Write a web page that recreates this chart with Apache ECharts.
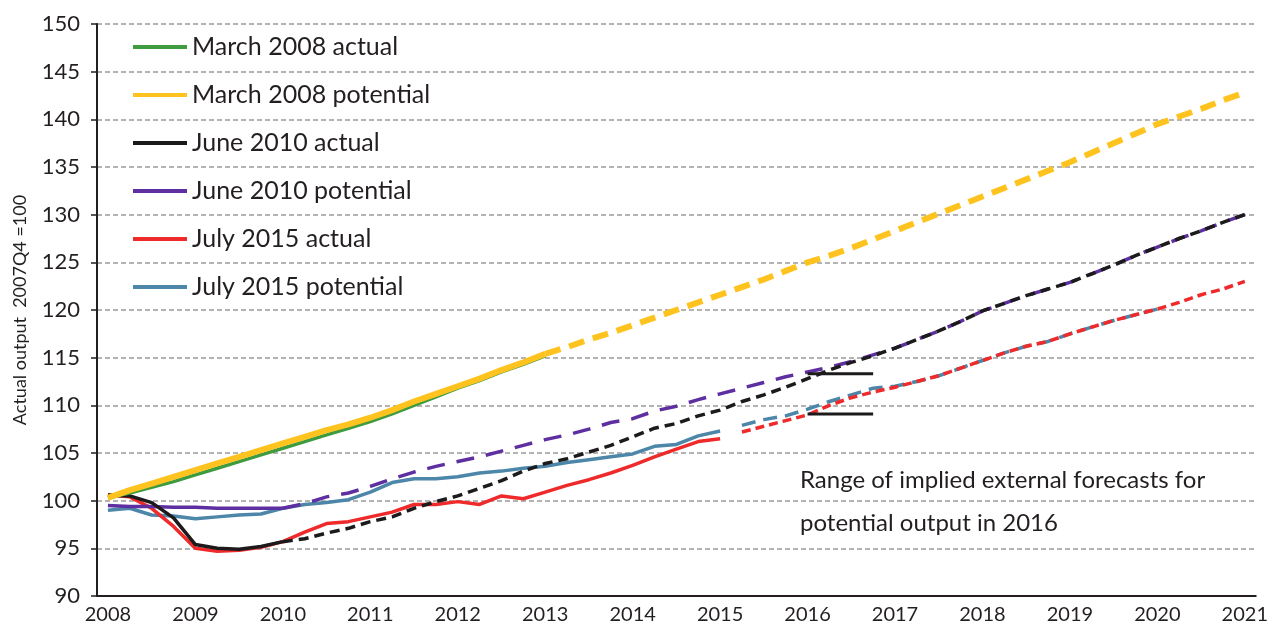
<!DOCTYPE html>
<html>
<head>
<meta charset="utf-8">
<script src="https://cdn.jsdelivr.net/npm/echarts@6/dist/echarts.min.js"></script>
<style>
  html, body { margin: 0; padding: 0; background: #fff; }
  #chart { width: 1271px; height: 633px; }
</style>
</head>
<body>
<div id="chart"></div>
<script>
// quarterly categories, 2008Q1 .. 2021Q1
var years = [2008, 2009, 2010, 2011, 2012, 2013, 2014, 2015, 2016, 2017, 2018, 2019, 2020, 2021];
var quarters = [];
years.forEach(function (y) {
  for (var q = 1; q <= 4; q++) {
    if (y === 2021 && q > 1) break;
    quarters.push(y + 'Q' + q);
  }
});

// March 2008 forecast
var mar08Actual = [100.3, 100.8, 101.4, 102.0, 102.7, 103.4, 104.1, 104.8, 105.5, 106.2, 106.9, 107.6,
  108.3, 109.1, 110.0, 110.9, 111.8, 112.6, 113.5, 114.3, 115.2];
var mar08Potential = [100.3, 101.1, 101.8, 102.5, 103.2, 103.9, 104.6, 105.3, 106.0, 106.7, 107.4, 108.0,
  108.7, 109.5, 110.4, 111.2, 112.0, 112.8, 113.7, 114.5, 115.4, 116.1, 116.9, 117.6,
  118.4, 119.2, 120.0, 120.8, 121.6, 122.4, 123.2, 124.1, 125.0, 125.7, 126.5, 127.4,
  128.3, 129.2, 130.1, 131.0, 131.9, 132.8, 133.7, 134.6, 135.5, 136.5, 137.5, 138.5,
  139.5, 140.3, 141.1, 142.0, 142.8];

// June 2010 forecast
var jun10Actual = [100.6, 100.5, 99.8, 98.2, 95.4, 95.0, 94.9, 95.2, 95.7, 96.0, 96.6, 97.1,
  97.8, 98.3, 99.2, 99.9, 100.5, 101.3, 102.1, 103.1, 103.9, 104.4, 105.1, 105.8,
  106.7, 107.6, 108.1, 108.9, 109.5, 110.4, 111.1, 111.9, 112.8, 113.7, 114.5, 115.2,
  116.0, 116.9, 117.8, 118.8, 119.9, 120.7, 121.5, 122.2, 122.9, 123.8, 124.7, 125.7,
  126.6, 127.5, 128.3, 129.2, 130.0];
var jun10Potential = [99.5, 99.4, 99.4, 99.3, 99.3, 99.2, 99.2, 99.2, 99.2, 99.7, 100.4, 100.8,
  101.5, 102.3, 103.0, 103.6, 104.1, 104.6, 105.2, 105.8, 106.4, 106.9, 107.5, 108.2,
  108.6, 109.4, 109.9, 110.6, 111.2, 111.8, 112.4, 113.0, 113.5, 114.0, 114.6, 115.3,
  116.0, 116.9, 117.8, 118.8, 119.9, 120.7, 121.5, 122.2, 122.9, 123.8, 124.7, 125.7,
  126.6, 127.5, 128.3, 129.2, 130.0];

// July 2015 forecast
var jul15Actual = [100.6, 100.4, 99.2, 97.3, 95.0, 94.7, 94.8, 95.1, 95.7, 96.7, 97.6, 97.8,
  98.3, 98.8, 99.6, 99.6, 99.9, 99.6, 100.5, 100.2, 100.9, 101.6, 102.2, 102.9,
  103.7, 104.6, 105.4, 106.2, 106.5, 107.2, 107.8, 108.4, 109.0, 110.0, 110.8, 111.4,
  111.9, 112.5, 113.1, 113.9, 114.7, 115.5, 116.2, 116.7, 117.5, 118.2, 118.9, 119.5,
  120.1, 120.8, 121.6, 122.2, 123.0];
var jul15Potential = [99.0, 99.2, 98.5, 98.4, 98.1, 98.3, 98.5, 98.6, 99.2, 99.6, 99.8, 100.1,
  100.9, 101.9, 102.3, 102.3, 102.5, 102.9, 103.1, 103.4, 103.6, 104.0, 104.3, 104.6,
  104.9, 105.7, 105.9, 106.8, 107.3, 107.9, 108.5, 108.9, 109.6, 110.4, 111.1, 111.8,
  112.0, 112.5, 113.1, 113.9, 114.7, 115.5, 116.2, 116.7, 117.5, 118.2, 118.9, 119.5,
  120.1];

// range of external forecasts for potential output in 2016
var rangeQuarters = ['2016Q1', '2016Q4'];
var rangeHigh = 113.3;
var rangeLow = 109.1;

// slice a series into the part drawn between two indices (others null)
function part(arr, from, to) {
  return quarters.map(function (q, i) {
    return (i >= from && i <= to && arr[i] != null) ? arr[i] : null;
  });
}

var textColor = '#231f20';
var fontName = 'Lato';

function lineSeries(name, data, color, width, dash, z) {
  return {
    name: name,
    type: 'line',
    data: data,
    showSymbol: false,
    symbol: 'none',
    connectNulls: false,
    silent: true,
    z: z,
    color: color,
    lineStyle: { color: color, width: width, type: dash || 'solid', cap: 'butt' }
  };
}

var cGreen = '#3f9b3f', cYellow = '#fec31e', cBlack = '#1c1a1a',
    cPurple = '#5e2fa0', cRed = '#ee2a2a', cBlue = '#4c86a8';

var ec = echarts.init(document.getElementById('chart'));
ec.setOption({
  animation: false,
  textStyle: { fontFamily: fontName, color: textColor },
  grid: { left: 97, right: 13, top: 24, bottom: 37 },
  legend: {
    orient: 'vertical',
    left: 133,
    top: 33,
    padding: 0,
    icon: 'rect',
    itemWidth: 54,
    itemHeight: 4,
    itemGap: 20,
    data: ['March 2008 actual', 'March 2008 potential', 'June 2010 actual',
      'June 2010 potential', 'July 2015 actual', 'July 2015 potential'],
    textStyle: { fontSize: 25, color: textColor, fontFamily: fontName, lineHeight: 28 }
  },
  xAxis: {
    type: 'category',
    data: quarters,
    boundaryGap: true,
    axisLine: { lineStyle: { color: textColor, width: 2 } },
    axisTick: { interval: 0, length: 6, lineStyle: { color: textColor, width: 1.5 } },
    axisLabel: {
      interval: 3,
      fontSize: 20,
      color: textColor,
      margin: 9,
      formatter: function (v) { return v.slice(0, 4); }
    },
    splitLine: { show: false }
  },
  yAxis: {
    type: 'value',
    min: 90,
    max: 150,
    interval: 5,
    name: 'Actual output  2007Q4 =100',
    nameLocation: 'middle',
    nameGap: 68,
    nameRotate: 90,
    nameTextStyle: { fontSize: 18, color: textColor },
    axisLine: { show: true, lineStyle: { color: textColor, width: 2 } },
    axisTick: { show: true, length: 6, lineStyle: { color: textColor, width: 1.5 } },
    axisLabel: { fontSize: 22, color: textColor, margin: 17 },
    splitLine: { lineStyle: { color: '#9a9a9a', width: 1.5, type: [5, 3] } }
  },
  graphic: [{
    type: 'text',
    left: 800,
    top: 459,
    style: {
      text: 'Range of implied external forecasts for\npotential output in 2016',
      fontSize: 24,
      lineHeight: 43,
      fontFamily: fontName,
      fill: textColor
    }
  }],
  series: [
    lineSeries('July 2015 potential', part(jul15Potential, 0, 28), cBlue, 3.5, null, 2),
    lineSeries('July 2015 potential (projection)', part(jul15Potential, 29, 52), cBlue, 3.5, [14, 8], 2),
    lineSeries('July 2015 actual', part(jul15Actual, 0, 28), cRed, 3.5, null, 3),
    lineSeries('July 2015 actual (projection)', part(jul15Actual, 29, 52), cRed, 3.5, [9, 5], 3),
    lineSeries('June 2010 potential', part(jun10Potential, 0, 8), cPurple, 3.5, null, 4),
    lineSeries('June 2010 potential (projection)', part(jun10Potential, 8, 52), cPurple, 3.5, [18, 12], 4),
    lineSeries('June 2010 actual', part(jun10Actual, 0, 8), cBlack, 3.5, null, 5),
    lineSeries('June 2010 actual (projection)', part(jun10Actual, 8, 52), cBlack, 3.5, [10, 6], 5),
    lineSeries('March 2008 actual', part(mar08Actual, 0, 20), cGreen, 3.5, null, 6),
    lineSeries('March 2008 potential', part(mar08Potential, 0, 20), cYellow, 6, null, 7),
    lineSeries('March 2008 potential (projection)', part(mar08Potential, 20, 52), cYellow, 6, [16, 9], 7),
    lineSeries('Range high', [[rangeQuarters[0], rangeHigh], [rangeQuarters[1], rangeHigh]], cBlack, 3, null, 8),
    lineSeries('Range low', [[rangeQuarters[0], rangeLow], [rangeQuarters[1], rangeLow]], cBlack, 3, null, 8)
  ]
});
</script>
</body>
</html>
